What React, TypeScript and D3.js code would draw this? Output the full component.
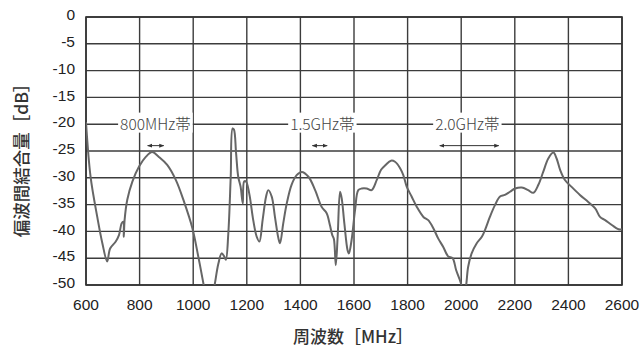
import React, { useEffect, useRef } from 'react';
import * as d3 from 'd3';

const freqMHz = [
  600, 617, 642, 661, 679, 690, 711, 723, 733, 739, 741, 744, 754, 773, 798, 823, 847, 872, 903, 935, 966,
  997, 1019, 1038, 1050, 1070, 1081, 1094, 1106, 1116, 1122, 1131, 1140, 1147, 1152, 1160, 1168, 1177, 1185,
  1190, 1197, 1209, 1224, 1237, 1247, 1259, 1272, 1280, 1293, 1305, 1318, 1324, 1336, 1349, 1367, 1386, 1405,
  1430, 1455, 1479, 1498, 1510, 1519, 1525, 1532, 1539, 1548, 1554, 1564, 1576, 1581, 1591, 1604, 1616, 1629,
  1647, 1666, 1685, 1701, 1718, 1738, 1753, 1772, 1784, 1797, 1815, 1834, 1859, 1877, 1896, 1914, 1933, 1952,
  1968, 1981, 1993, 2002, 2010, 2018, 2026, 2039, 2058, 2077, 2089, 2107, 2126, 2145, 2163, 2182, 2201, 2226,
  2250, 2269, 2288, 2306, 2325, 2344, 2356, 2369, 2387, 2412, 2443, 2474, 2500, 2518, 2537, 2562, 2587, 2600,
];

const couplingDb = [
  -19.6, -29.8, -37.3, -42.2, -45.6, -43.2, -41.9, -40.7, -38.5, -38.2, -41, -37.9, -34.1, -30.7, -27.9, -26.1,
  -25.2, -26.1, -27.6, -30.4, -34.5, -39.4, -44.7, -49.7, -53, -53, -49.7, -46, -44.1, -44.7, -45.3, -40.4,
  -29.8, -20.8, -21, -25.4, -29.8, -31.7, -34.8, -30.7, -30.7, -32.9, -37.9, -41, -41.9, -37.9, -33.5, -32.3,
  -33.5, -37.3, -41.3, -42.2, -38.5, -34.8, -31.3, -29.5, -28.9, -29.8, -32.3, -35.4, -36.6, -38.8, -40.7,
  -41.4, -46.3, -41, -32.6, -33.8, -38.5, -43.5, -44.1, -41.6, -36, -32.3, -32, -32, -32.3, -30.4, -28.5,
  -27.6, -26.8, -27, -28.2, -29.5, -31.7, -33.5, -35.4, -37.3, -37.9, -39.4, -41.3, -42.9, -44.7, -45,
  -47.2, -48.8, -50.2, -52, -50.2, -46.6, -44.1, -42.2, -41, -39.7, -37.3, -35.1, -33.5, -33.2, -32.6, -32,
  -31.8, -32.3, -32.8, -31.3, -28.9, -26.4, -25.3, -26.4, -28.5, -30.4, -31.7, -33.2, -34.5, -35.7, -37.3,
  -37.9, -38.8, -39.6, -39.6,
];

const xTicks = [600, 800, 1000, 1200, 1400, 1600, 1800, 2000, 2200, 2400, 2600];
const yTicks = [0, -5, -10, -15, -20, -25, -30, -35, -40, -45, -50];

const bandLabels = ['800MHz帯', '1.5GHz帯', '2.0GHz帯'];
const bandLabelCenter = [859, 1482, 2023];
const bandStart = [830, 1445, 1920];
const bandEnd = [890, 1500, 2140];

const W = 640;
const H = 349;
const margin = { top: 17, right: 18, bottom: 64, left: 86 };

export default function App() {
  const ref = useRef<SVGSVGElement>(null);

  useEffect(() => {
    const svg = d3.select(ref.current);
    svg.selectAll('*').remove();

    const x = d3.scaleLinear().domain([600, 2600]).range([margin.left, W - margin.right]);
    const y = d3.scaleLinear().domain([0, -50]).range([margin.top, H - margin.bottom]);

    const defs = svg.append('defs');
    defs
      .append('clipPath')
      .attr('id', 'plot-clip')
      .append('rect')
      .attr('x', x(600))
      .attr('y', y(0))
      .attr('width', x(2600) - x(600))
      .attr('height', y(-50) - y(0));
    defs
      .append('marker')
      .attr('id', 'arrow')
      .attr('viewBox', '0 0 10 10')
      .attr('refX', 9)
      .attr('refY', 5)
      .attr('markerWidth', 5)
      .attr('markerHeight', 5)
      .attr('orient', 'auto-start-reverse')
      .append('path')
      .attr('d', 'M0,1 L10,5 L0,9 Z')
      .attr('fill', '#333');

    // grid
    const grid = svg.append('g').attr('stroke', '#3c3c3c').attr('stroke-width', 1.4);
    grid
      .selectAll('line.v')
      .data(xTicks)
      .join('line')
      .attr('class', 'v')
      .attr('x1', (d) => x(d))
      .attr('x2', (d) => x(d))
      .attr('y1', y(0))
      .attr('y2', y(-50));
    grid
      .selectAll('line.h')
      .data(yTicks)
      .join('line')
      .attr('class', 'h')
      .attr('x1', x(600))
      .attr('x2', x(2600))
      .attr('y1', (d) => y(d))
      .attr('y2', (d) => y(d));

    svg
      .append('rect')
      .attr('x', x(600))
      .attr('y', y(0))
      .attr('width', x(2600) - x(600))
      .attr('height', y(-50) - y(0))
      .attr('fill', 'none')
      .attr('stroke', '#333')
      .attr('stroke-width', 1.6);

    // band labels with white knock-out
    const labels = svg
      .append('g')
      .attr('font-family', '"Noto Sans CJK JP", "Noto Sans", sans-serif')
      .attr('font-weight', 300)
      .attr('font-size', 15.5)
      .attr('fill', '#444');
    bandLabels.forEach((t, i) => {
      const g = labels.append('g');
      const txt = g
        .append('text')
        .attr('x', x(bandLabelCenter[i]))
        .attr('y', y(-20))
        .attr('dy', '0.35em')
        .attr('text-anchor', 'middle')
        .text(t);
      const bb = (txt.node() as SVGTextElement).getBBox();
      g.insert('rect', 'text')
        .attr('x', bb.x - 2)
        .attr('y', bb.y + 1)
        .attr('width', bb.width + 4)
        .attr('height', bb.height - 2)
        .attr('fill', 'white');
    });

    // band arrows
    svg
      .append('g')
      .attr('stroke', '#333')
      .attr('stroke-width', 1)
      .selectAll('line')
      .data(bandStart)
      .join('line')
      .attr('x1', (d) => x(d))
      .attr('x2', (d, i) => x(bandEnd[i]))
      .attr('y1', y(-24))
      .attr('y2', y(-24))
      .attr('marker-start', 'url(#arrow)')
      .attr('marker-end', 'url(#arrow)');

    // curve
    const line = d3
      .line<number>()
      .x((d, i) => x(freqMHz[i]))
      .y((d) => y(d))
      .curve(d3.curveCatmullRom.alpha(0.5));
    svg
      .append('path')
      .datum(couplingDb)
      .attr('clip-path', 'url(#plot-clip)')
      .attr('d', line)
      .attr('fill', 'none')
      .attr('stroke', '#666')
      .attr('stroke-width', 2)
      .attr('stroke-linejoin', 'round');

    // tick labels
    const tickFont = '"Liberation Sans", Arial, sans-serif';
    svg
      .append('g')
      .attr('font-family', tickFont)
      .attr('font-size', 15.5)
      .attr('fill', '#222')
      .attr('text-anchor', 'end')
      .selectAll('text')
      .data(yTicks)
      .join('text')
      .attr('x', margin.left - 11)
      .attr('y', (d) => y(d))
      .attr('dy', '0.2em')
      .text((d) => String(d));
    svg
      .append('g')
      .attr('font-family', tickFont)
      .attr('font-size', 15.5)
      .attr('fill', '#222')
      .attr('text-anchor', 'middle')
      .selectAll('text')
      .data(xTicks)
      .join('text')
      .attr('x', (d) => x(d))
      .attr('y', y(-50) + 25)
      .text((d) => String(d));

    // axis titles
    svg
      .append('text')
      .attr('x', 353)
      .attr('y', 343)
      .attr('text-anchor', 'middle')
      .attr('font-family', '"Noto Sans CJK JP", sans-serif')
      .attr('font-weight', 500)
      .attr('font-size', 17)
      .attr('fill', '#333')
      .text('周波数［MHz］');
    svg
      .append('text')
      .attr('transform', 'translate(22,156) rotate(-90)')
      .attr('text-anchor', 'middle')
      .attr('dy', '0.35em')
      .attr('font-family', '"Noto Sans CJK JP", sans-serif')
      .attr('font-weight', 500)
      .attr('font-size', 17.5)
      .attr('fill', '#333')
      .text('偏波間結合量［dB］');
  }, []);

  return (
    <svg
      ref={ref}
      width={W}
      height={H}
      style={{ position: 'absolute', left: 0, top: 0, background: 'white' }}
    />
  );
}
